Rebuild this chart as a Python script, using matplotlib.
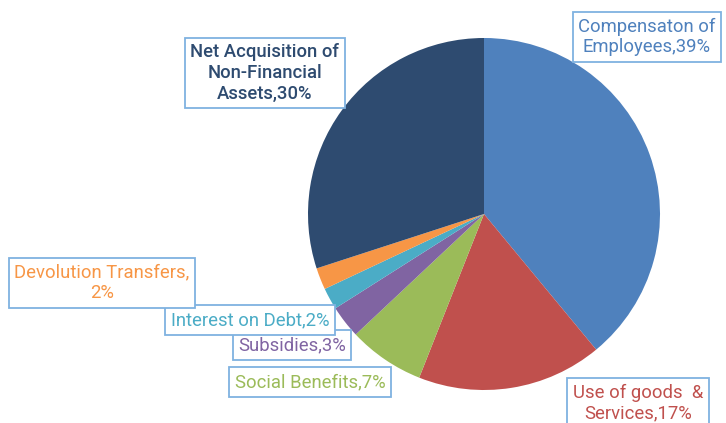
import matplotlib
matplotlib.use("Agg")
import matplotlib.pyplot as plt

categories = ["Compensaton of Employees", "Use of goods & Services", "Social Benefits",
              "Subsidies", "Interest on Debt", "Devolution Transfers",
              "Net Acquisition of Non-Financial Assets"]
values = [39, 17, 7, 3, 2, 2, 30]
colors = ["#4F81BD", "#C0504D", "#9BBB59", "#8064A2", "#4BACC6", "#F79646", "#2E4B70"]
label_texts = ["Compensaton of\nEmployees,39%", "Use of goods  &\nServices,17%", "Social Benefits,7%",
               "Subsidies,3%", "Interest on Debt,2%", "Devolution Transfers,\n2%",
               "Net Acquisition of\nNon-Financial\nAssets,30%"]

W, H = 726, 423
fig = plt.figure(figsize=(W / 100, H / 100), dpi=100)
ax = fig.add_axes([0, 0, 1, 1])

cx, cy, r = 484, H - 214, 176
ax.pie(values, colors=colors, startangle=90, counterclock=False,
       center=(cx, cy), radius=r, frame=True,
       wedgeprops=dict(linewidth=0))
ax.set_xlim(0, W)
ax.set_ylim(0, H)
ax.set_aspect("equal")
ax.axis("off")

# label box centers (pixels, top-origin)
label_pos = [
    (647, 37),   # Compensation
    (638, 403),  # Use of goods
    (310, 382),  # Social Benefits
    (292, 345),  # Subsidies
    (250, 320),  # Interest
    (102, 283),  # Devolution
    (265, 73),   # Net Acquisition
]
weights = ["normal", "normal", "normal", "normal", "normal", "normal", "medium"]
for txt, col, (px, py), wt in zip(label_texts, colors, label_pos, weights):
    ax.text(px, H - py, txt, color=col, fontsize=13.3, family=["Roboto", "DejaVu Sans"],
            fontweight=wt, ha="center", va="center", multialignment="center",
            linespacing=1.2,
            bbox=dict(boxstyle="square,pad=0.3", facecolor="white",
                      edgecolor="#7FB2E0", linewidth=1.3))

fig.savefig("out.png", dpi=100)
